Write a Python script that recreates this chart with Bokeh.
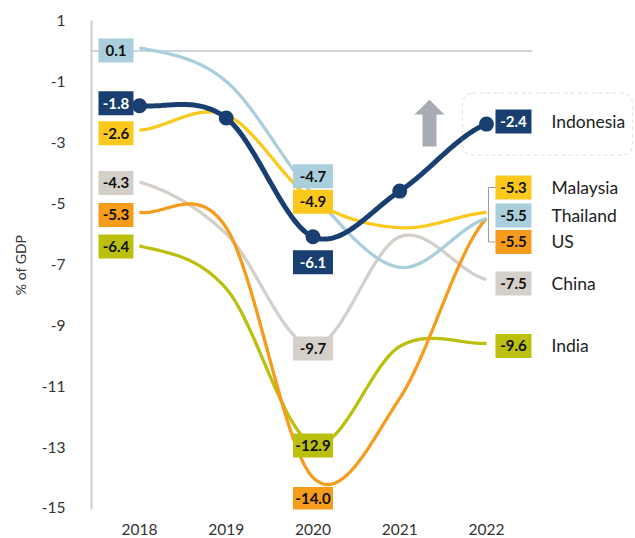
import numpy as np
from bokeh.plotting import figure
from bokeh.models import Range1d, FixedTicker, BoxAnnotation
from bokeh.core.properties import value
from bokeh.embed import file_html
from bokeh.resources import INLINE

# ---------------- data ----------------
years = ["2018", "2019", "2020", "2021", "2022"]
countries = ["China", "India", "US", "Thailand", "Malaysia", "Indonesia"]
china = [-4.3, -6.0, -9.7, -6.1, -7.5]
india = [-6.4, -7.8, -12.9, -9.7, -9.6]
us = [-5.3, -5.8, -14.0, -11.4, -5.5]
thailand = [0.1, -1.0, -4.7, -7.1, -5.5]
malaysia = [-2.6, -2.1, -4.9, -5.8, -5.3]
indonesia = [-1.8, -2.2, -6.1, -4.6, -2.4]
series = [china, india, us, thailand, malaysia, indonesia]
y_ticks = [1, -1, -3, -5, -7, -9, -11, -13, -15]
y_tick_labels = ["1", "-1", "-3", "-5", "-7", "-9", "-11", "-13", "-15"]
labelled_years = [0, 2, 4]

# ---------------- style ----------------
colors = {"China": "#d5cfc9", "India": "#bbc00f", "US": "#f59c1d",
          "Thailand": "#a9cfdc", "Malaysia": "#fcc81c", "Indonesia": "#183f70"}
text_colors = {c: "#111111" for c in countries}
text_colors["Indonesia"] = "#ffffff"
box_dx = {0: -23.5, 2: 0.0, 4: 27.0}
box_w = {0: 35, 2: 40, 4: 36}
box_dy = {
    0: {"China": 1, "India": 0.5, "US": 2.5, "Thailand": 2.5, "Malaysia": 3, "Indonesia": -2.5},
    2: {"China": 2, "India": 1.5, "US": 21.5, "Thailand": -18, "Malaysia": 1.5, "Indonesia": 25.5},
    4: {"China": 4, "India": 2.5, "US": 23.5, "Thailand": -3, "Malaysia": -25, "Indonesia": -2.7},
}
name_dx = 65
FONT = "Lato"

W, H = 634, 537
BL, BR, BT, BB = 91, 0, 20, 27
PXX = 86.75
PXY = 490 / 16.05
x_start = -0.553
x_end = x_start + (W - BL - BR) / PXX
y_start, y_end = -15.05, 1.0


def dxp(px):
    return px / PXX


def dyp(px):
    return -px / PXY


def spline(vals, n=40):
    v = np.asarray(vals, dtype=float)
    k = len(v)
    m = np.zeros(k)
    m[1:-1] = (v[2:] - v[:-2]) / 2.0
    m[0] = 0.5 * (v[1] - v[0])
    m[-1] = 0.5 * (v[-1] - v[-2])
    t = np.linspace(0, 1, n, endpoint=False)
    h00 = 2 * t**3 - 3 * t**2 + 1
    h10 = t**3 - 2 * t**2 + t
    h01 = -2 * t**3 + 3 * t**2
    h11 = t**3 - t**2
    xs, ys = [], []
    for i in range(k - 1):
        xs.extend(i + t)
        ys.extend(h00 * v[i] + h10 * m[i] + h01 * v[i + 1] + h11 * m[i + 1])
    xs.append(k - 1)
    ys.append(v[-1])
    return xs, ys


p = figure(width=W, height=H, output_backend="svg", toolbar_location=None,
           x_range=Range1d(x_start, x_end), y_range=Range1d(y_start, y_end),
           min_border_left=BL, min_border_right=BR, min_border_top=BT, min_border_bottom=BB)
p.outline_line_color = None
p.xgrid.visible = False
p.ygrid.visible = False
p.background_fill_color = "white"
p.border_fill_color = "white"

# axes
p.xaxis.ticker = FixedTicker(ticks=list(range(len(years))))
p.xaxis.major_label_overrides = {i: y for i, y in enumerate(years)}
p.xaxis.axis_line_color = None
p.xaxis.major_tick_line_color = None
p.xaxis.minor_tick_line_color = None
p.xaxis.major_label_standoff = 8
p.xaxis.major_label_text_font = FONT
p.xaxis.major_label_text_font_size = "15.5px"
p.xaxis.major_label_text_color = "#333333"

p.yaxis.ticker = FixedTicker(ticks=y_ticks)
p.yaxis.major_label_overrides = {t: l for t, l in zip(y_ticks, y_tick_labels)}
p.yaxis.axis_line_color = "#c9ced3"
p.yaxis.axis_line_width = 2
p.yaxis.major_tick_line_color = None
p.yaxis.minor_tick_line_color = None
p.yaxis.major_label_standoff = 20
p.yaxis.major_label_text_font = FONT
p.yaxis.major_label_text_font_size = "15.5px"
p.yaxis.major_label_text_color = "#333333"
p.yaxis.axis_label = "% of GDP"
p.yaxis.axis_label_text_font = FONT
p.yaxis.axis_label_text_font_style = "normal"
p.yaxis.axis_label_text_font_size = "14px"
p.yaxis.axis_label_text_color = "#333333"
p.yaxis.axis_label_standoff = 10

# zero line
p.segment(x0=[x_start], y0=[0], x1=[4 + dxp(46)], y1=[0], line_color="#d0d4d8", line_width=2)

# dashed callout box and arrow
p.add_layout(BoxAnnotation(left=4 + dxp(-24), right=4 + dxp(146),
                           top=indonesia[4] + dyp(-31), bottom=indonesia[4] + dyp(31),
                           fill_alpha=0, line_color="#a3a8ad", line_width=1.2,
                           line_dash="4 3", border_radius=10))
ax = 4 + dxp(-57)
ay = indonesia[4] + dyp(-24.5)
arrow_x = [ax, ax + dxp(15), ax + dxp(7), ax + dxp(7), ax - dxp(7), ax - dxp(7), ax - dxp(15)]
arrow_y = [ay, ay + dyp(15), ay + dyp(15), ay + dyp(47), ay + dyp(47), ay + dyp(15), ay + dyp(15)]
p.patch(arrow_x, arrow_y, fill_color="#a6acb2", line_color=None)

# lines
for name, vals in zip(countries, series):
    xs, ys = spline(vals)
    lw = 5 if name == "Indonesia" else 3.3
    p.line(xs, ys, line_color=colors[name], line_width=lw)
p.scatter(list(range(len(indonesia))), indonesia, size=15, fill_color=colors["Indonesia"],
          line_color=None)

# bracket for Malaysia / Thailand / US
bx = 4 + dxp(2)
bx1 = 4 + dxp(box_dx[4] - box_w[4] / 2)
top_y = malaysia[4] + dyp(box_dy[4]["Malaysia"])
bot_y = us[4] + dyp(box_dy[4]["US"])
p.line([bx1, bx, bx, bx1], [top_y, top_y, bot_y, bot_y], line_color="#999999", line_width=1)

# value boxes and names
for col in labelled_years:
    for name, vals in zip(countries, series):
        x = col + dxp(box_dx[col])
        y = vals[col] + dyp(box_dy[col][name])
        p.rect([x], [y], width=box_w[col], height=24, width_units="screen",
               height_units="screen", fill_color=colors[name], line_color=None)
        p.text([x], [y], text=[f"{vals[col]:.1f}"], text_font=value(FONT),
               text_font_style="bold", text_font_size="15px", text_color=text_colors[name],
               text_align="center", text_baseline="middle")
        if col == 4:
            p.text([col + dxp(name_dx)], [y], text=[name], text_font=value(FONT),
                   text_font_size="17.5px", text_color="#222222",
                   text_align="left", text_baseline="middle")

open("out.html", "w").write(file_html(p, INLINE))
